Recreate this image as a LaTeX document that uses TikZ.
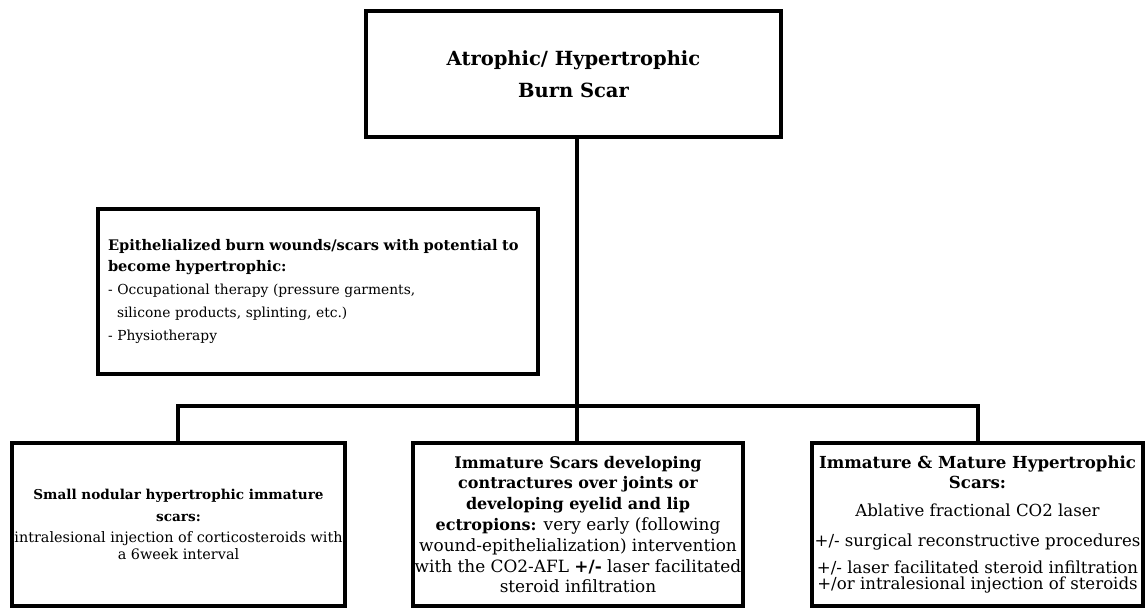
\documentclass[tikz,border=0pt]{standalone}
\usepackage{fontspec}
\setmainfont{DejaVu Serif}
\newcommand\fsz[2]{\fontsize{#1}{#2}\selectfont}
\begin{document}
\begin{tikzpicture}[x=1pt,y=-1pt,
  box/.style={draw, line width=3.2pt, rectangle, inner sep=0pt, align=center},
  conn/.style={line width=3.2pt}]
\useasboundingbox (0,0) rectangle (1145,608);
% top
\node[box, minimum width=415pt, minimum height=126pt,
  font=\fsz{19.5}{32}\bfseries] (top) at (573.5,74)
  {Atrophic/ Hypertrophic\\Burn Scar};
% left box
\node[box, minimum width=440pt, minimum height=165pt, text width=420pt, align=left,
  font=\fsz{13.8}{23}] (epi) at (318,291.5)
  {{\fsz{14.6}{23}\bfseries Epithelialized burn wounds/scars with potential to}\\[-2pt]
   {\fsz{14.6}{23}\bfseries become hypertrophic:}\\
   - Occupational therapy (pressure garments,\\
   \hspace*{9pt}silicone products, splinting, etc.)\\
   - Physiotherapy};
% bottom boxes
\node[box, minimum width=333pt, minimum height=163pt,
  font=\fsz{14.4}{20}] (b1) at (178.5,524.5)
  {{\fsz{13.6}{20}\bfseries Small nodular hypertrophic immature}\\[2pt]
   {\fsz{13.6}{20}\bfseries scars:}\\[1pt]
   intralesional injection of corticosteroids with\\[-3pt]
   a 6week interval};
\node[box, minimum width=330pt, minimum height=163pt,
  font=\fsz{16.9}{20.8}] (b2) at (578,524.5)
  {{\fsz{16}{20.8}\bfseries Immature Scars developing}\\
   {\fsz{16}{20.8}\bfseries contractures over joints or}\\
   {\fsz{16}{20.8}\bfseries developing eyelid and lip}\\
   {\fsz{16}{20.8}\bfseries ectropions:} very early (following\\
   wound-epithelialization) intervention\\
   with the CO2-AFL \textbf{+/-} laser facilitated\\
   steroid infiltration};
\node[box, minimum width=331pt, minimum height=163pt,
  font=\fsz{16.6}{20}] (b3) at (977.5,524.5)
  {\textbf{Immature \& Mature Hypertrophic}\\
   \textbf{Scars:}\\[8pt]
   Ablative fractional CO2 laser\\[10pt]
   +/- surgical reconstructive procedures\\[7pt]
   +/- laser facilitated steroid infiltration\\[-4pt]
   +/or intralesional injection of steroids};
% connectors
\coordinate (busL) at (178,406);
\coordinate (busM) at (577,406);
\coordinate (busR) at (978,406);
\draw[conn] (busM |- top.south) -- (busM);
\draw[conn, line cap=rect] (busL |- b1.north) -- (busL) -- (busR) -- (busR |- b3.north);
\draw[conn] (busM) -- (busM |- b2.north);
\end{tikzpicture}
\end{document}
